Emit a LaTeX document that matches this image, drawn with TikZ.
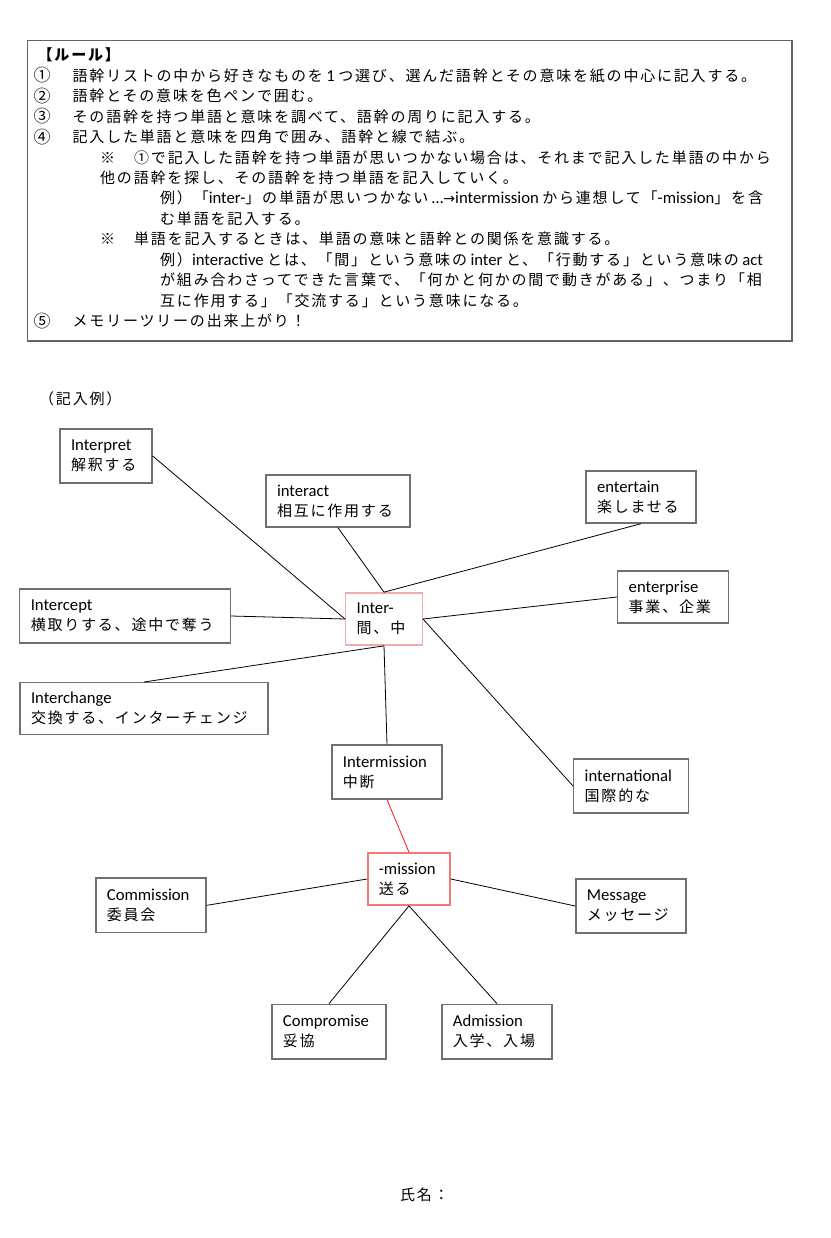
\documentclass[tikz,border=0pt]{standalone}
\usepackage{fontspec}
\setmainfont{Noto Sans CJK JP}[LetterSpace=12]
\newfontfamily\enf{Carlito}
\newfontfamily\arrf{DejaVu Sans}
\newcommand\E[1]{{\enf\fontsize{16.7}{20}\selectfont #1}}
\newcommand\jsize{\fontsize{15}{20}\selectfont}
\newcommand\ap{\hspace{3.5pt}}
\newcommand\arr{{\arrf\fontsize{14}{20}\selectfont →}}
\definecolor{boxgray}{RGB}{112,112,112}
\definecolor{rulegray}{RGB}{100,100,100}
\definecolor{pinkA}{RGB}{245,170,170}
\definecolor{pinkB}{RGB}{238,122,122}
\definecolor{redline}{RGB}{255,20,20}
\tikzset{
  wbox/.style={draw=boxgray, line width=1.4pt, rectangle, inner xsep=11pt, inner ysep=0pt, align=left, font=\jsize},
  conn/.style={draw=black, line width=0.8pt},
  rl/.style={anchor=base west, inner sep=0pt, font=\jsize},
  num/.style={anchor=base west, inner sep=0pt, font=\fontsize{17}{20}\selectfont},
}
\begin{document}
\begin{tikzpicture}[x=1pt,y=-1pt]
\fill[white] (0,0) rectangle (830,1238);
\path[use as bounding box] (0,0) rectangle (830,1238);
% rules frame
\draw[rulegray, line width=1.3pt] (27.5,40.5) rectangle (792,341);
\node[rl] (r0) at (37.5,60.8) {\bfseries 【ルール】};
\node[num] (n1) at (33.5,81.8) {①};
\node[rl] (r1) at (72.5,81.3) {語幹リストの中から好きなものを{\ap}\E{1}{\ap}つ選び、選んだ語幹とその意味を紙の中心に記入する。};
\node[num] (n2) at (33.5,102.2) {②};
\node[rl] (r2) at (72.5,101.7) {語幹とその意味を色ペンで囲む。};
\node[num] (n3) at (33.5,122.7) {③};
\node[rl] (r3) at (72.5,122.2) {その語幹を持つ単語と意味を調べて、語幹の周りに記入する。};
\node[num] (n4) at (33.5,143.1) {④};
\node[rl] (r4) at (72.5,142.6) {記入した単語と意味を四角で囲み、語幹と線で結ぶ。};
\node[rl] (s1) at (100,163.1) {※};
\node[rl] (r5) at (134,163.1) {①で記入した語幹を持つ単語が思いつかない場合は、それまで記入した単語の中から};
\node[rl] (r6) at (100,183.6) {他の語幹を探し、その語幹を持つ単語を記入していく。};
\node[rl] (r7) at (160,204.0) {例）「\E{inter-}」の単語が思いつかない{\ap}\E{…}{\arr}\E{intermission}{\ap}から連想して「\E{-mission}」を含};
\node[rl] (r8) at (160,224.5) {む単語を記入する。};
\node[rl] (s2) at (100,245.0) {※};
\node[rl] (r9) at (134,245.0) {単語を記入するときは、単語の意味と語幹との関係を意識する。};
\node[rl] (r10) at (160,265.4) {例）\E{interactive}{\ap}とは、「間」という意味の{\ap}\E{inter}{\ap}と、「行動する」という意味の{\ap}\E{act}};
\node[rl] (r11) at (160,285.9) {が組み合わさってできた言葉で、「何かと何かの間で動きがある」、つまり「相};
\node[rl] (r12) at (160,306.3) {互に作用する」「交流する」という意味になる。};
\node[num] (n5) at (33.5,327.3) {⑤};
\node[rl] (r13) at (72.5,326.8) {メモリーツリーの出来上がり！};
% example label
\node[rl] (ex) at (39,404.8) {（記入例）};
% boxes
\node[wbox, minimum width=92pt, minimum height=54pt, text width=70pt] (interpret) at (106,456) {\E{Interpret}\\解釈する};
\node[wbox, minimum width=144pt, minimum height=52pt, text width=122pt] (interact) at (338,501) {\E{interact}\\相互に作用する};
\node[wbox, minimum width=110pt, minimum height=52pt, text width=88pt] (entertain) at (641,497) {\E{entertain}\\楽しませる};
\node[wbox, minimum width=210.5pt, minimum height=54pt, text width=188.5pt] (intercept) at (125,616) {\E{Intercept}\\横取りする、途中で奪う};
\node[wbox, draw=pinkA, minimum width=76.6pt, minimum height=52.3pt, text width=54.6pt] (inter) at (384,619) {\E{Inter-}\\間、中};
\node[wbox, minimum width=110.6pt, minimum height=52pt, text width=88.6pt] (enterprise) at (673,597) {\E{enterprise}\\事業、企業};
\node[wbox, minimum width=248pt, minimum height=51.6pt, text width=226pt] (interchange) at (144,708.5) {\E{Interchange}\\交換する、インターチェンジ};
\node[wbox, minimum width=110.3pt, minimum height=54pt, text width=88.3pt] (intermission) at (387,772) {\E{Intermission}\\中断};
\node[wbox, minimum width=114.6pt, minimum height=53.7pt, text width=92.6pt] (international) at (631,786) {\E{international}\\国際的な};
\node[wbox, draw=pinkB, minimum width=82.3pt, minimum height=52.3pt, text width=60.3pt] (mission) at (409,879) {\E{-mission}\\送る};
\node[wbox, minimum width=110.3pt, minimum height=54.7pt, text width=88.3pt] (commission) at (151,905.3) {\E{Commission}\\委員会};
\node[wbox, minimum width=110.3pt, minimum height=53.7pt, text width=88.3pt] (message) at (631,906) {\E{Message}\\メッセージ};
\node[wbox, minimum width=114.3pt, minimum height=54.7pt, text width=92.3pt] (compromise) at (329,1031.7) {\E{Compromise}\\妥協};
\node[wbox, minimum width=110.3pt, minimum height=54.7pt, text width=88.3pt] (admission) at (497,1031.7) {\E{Admission}\\入学、入場};
% connectors
\draw[conn] (interpret.east) -- (inter.west);
\draw[conn] (intercept.east) -- (inter.west);
\draw[conn] (interact.south) -- (inter.north);
\draw[conn] (entertain.south) -- (inter.north);
\draw[conn] (enterprise.west) -- (inter.east);
\draw[conn] (international.west) -- (inter.east);
\draw[conn] (interchange.north) -- (inter.south);
\draw[conn] (intermission.north) -- (inter.south);
\draw[redline, line width=0.8pt] (intermission.south) -- (mission.north);
\draw[conn] (commission.east) -- (mission.west);
\draw[conn] (message.west) -- (mission.east);
\draw[conn] (compromise.north) -- (mission.south);
\draw[conn] (admission.north) -- (mission.south);
% name
\node[rl] (name) at (400,1200.8) {氏名：};
\end{tikzpicture}
\end{document}
